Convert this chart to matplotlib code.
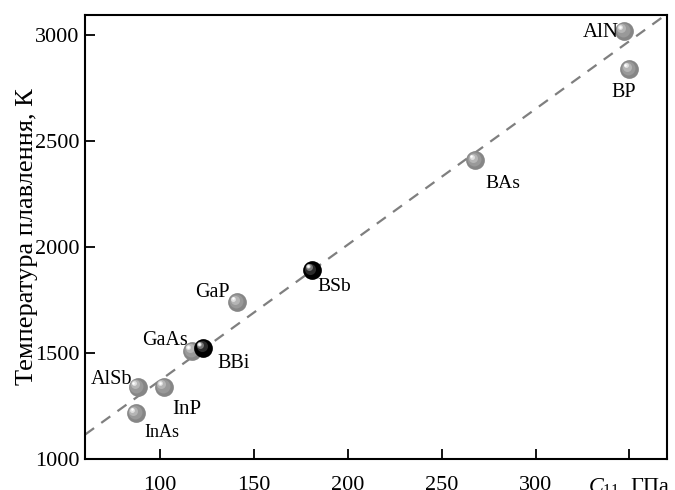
import matplotlib.pyplot as plt
import matplotlib.transforms as mtransforms

plt.rcParams['font.family'] = ['Liberation Serif', 'DejaVu Serif']
plt.rcParams['mathtext.fontset'] = 'custom'
plt.rcParams['mathtext.rm'] = 'Liberation Serif'
plt.rcParams['mathtext.it'] = 'Liberation Serif:italic'

# compounds: C11 (GPa) vs melting temperature (K)
names = ['AlN', 'BP', 'BAs', 'BSb', 'GaP', 'GaAs', 'BBi', 'AlSb', 'InP', 'InAs']
c11 = [347, 350, 268, 181, 141, 117, 123, 88, 102, 87]
tmelt = [3020, 2840, 2410, 1890, 1740, 1510, 1525, 1340, 1340, 1215]
is_boron_v = [False, False, False, True, False, False, True, False, False, False]

# dashed trend line end points
fit_x = [60, 370]
fit_y = [1115, 3100]

# label placement (pixel offsets from the point, alignment, size)
lab_off = [(-5, -2), (-18, -23), (10, -23), (5, -16), (-7, 10),
           (-4, 10), (14, -16), (-5, 7), (8, -23), (9, -19)]
lab_ha = ['right', 'left', 'left', 'left', 'right',
          'right', 'left', 'right', 'left', 'left']
lab_size = [15, 14.5, 14, 14, 14.5, 14.5, 14.5, 14.5, 15, 13]

fig = plt.figure(figsize=(6.75, 4.9), dpi=100)
ax = fig.add_axes([0.126, 0.0633, 0.862, 0.906])

ax.plot(fit_x, fit_y, color='#7f7f7f', lw=1.6, dashes=(5, 4), zorder=1)

gray_layers = [('#868686', 0, 0, 13.5), ('#999999', -0.8, 0.8, 10),
               ('#b5b5b5', -1.8, 1.8, 6.5), ('#e0e0e0', -2.6, 2.6, 3.5),
               ('#ffffff', -3, 3, 1.8)]
black_layers = [('#000000', 0, 0, 13.5), ('#2a2a2a', -1.2, 1.2, 8),
                ('#777777', -2.2, 2.2, 5), ('#cfcfcf', -2.8, 2.8, 3),
                ('#ffffff', -3, 3, 1.6)]

for x, y, blk in zip(c11, tmelt, is_boron_v):
    layers = black_layers if blk else gray_layers
    for col, dx, dy, ms in layers:
        tr = mtransforms.offset_copy(ax.transData, fig=fig, x=dx, y=dy, units='points')
        ax.plot([x], [y], 'o', ms=ms, color=col, mec='none', transform=tr, zorder=3)

for n, x, y, off, ha, fs in zip(names, c11, tmelt, lab_off, lab_ha, lab_size):
    ax.annotate(n, (x, y), xytext=off, textcoords='offset pixels',
                ha=ha, va='center', fontsize=fs, zorder=4)

ax.set_xlim(60, 370)
ax.set_ylim(1000, 3095)
ax.set_xticks([100, 150, 200, 250, 300, 350])
ax.set_xticklabels(['100', '150', '200', '250', '300', '$C_{11}$, ГПа'])
ax.set_yticks([1000, 1500, 2000, 2500, 3000])
ax.tick_params(direction='in', length=7, width=1.3, labelsize=16)
ax.tick_params(axis='x', pad=12)
ax.tick_params(axis='y', pad=4)
for s in ax.spines.values():
    s.set_linewidth(1.5)

ax.set_ylabel('Температура плавлення, К', fontsize=19, labelpad=-2)

plt.savefig('out.png', dpi=100)
